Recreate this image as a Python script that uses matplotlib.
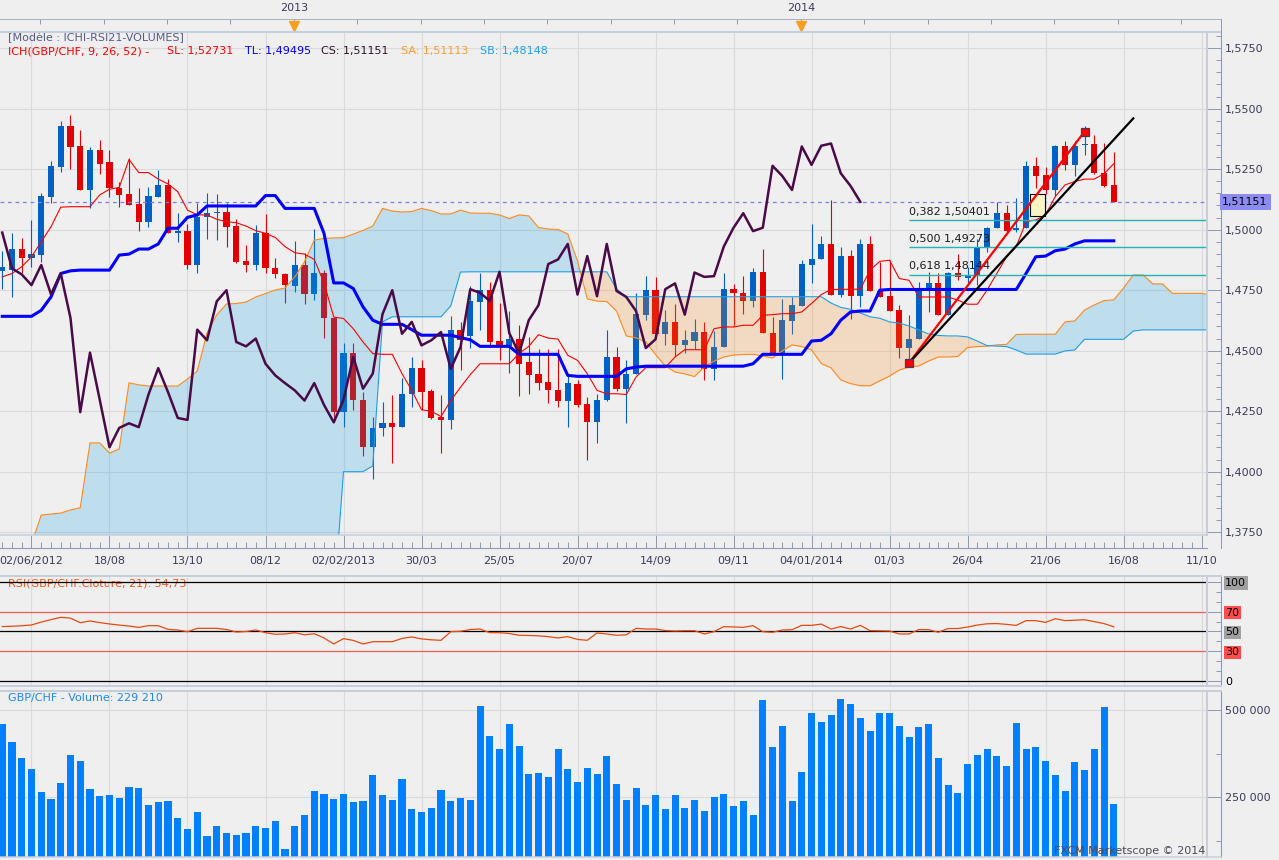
import numpy as np
import matplotlib.pyplot as plt
from matplotlib.lines import Line2D
from matplotlib.patches import Rectangle
from matplotlib.ticker import FixedLocator, MultipleLocator, FuncFormatter

plt.rcParams['font.family'] = ['DejaVu Sans']

# weekly GBP/CHF candles, week 0 = first dated grid line (02/06/2012)
first_week = -3

opens = [1.4830, 1.4833, 1.4920, 1.4884, 1.4895, 1.5137, 1.5261, 1.5427, 1.5344, 1.5164,
         1.5330, 1.5278, 1.5171, 1.5148, 1.5106, 1.5033, 1.5137, 1.5185, 1.4985, 1.4994,
         1.4856, 1.5051, 1.5068, 1.5073, 1.5015, 1.4870, 1.4856, 1.4988, 1.4840, 1.4816,
         1.4767, 1.4854, 1.4736, 1.4819, 1.4635, 1.4246, 1.4492, 1.4298, 1.4101, 1.4181,
         1.4200, 1.4184, 1.4319, 1.4428, 1.4332, 1.4225, 1.4214, 1.4587, 1.4559, 1.4702,
         1.4750, 1.4539, 1.4518, 1.4550, 1.4453, 1.4402, 1.4370, 1.4338, 1.4294, 1.4363,
         1.4278, 1.4204, 1.4297, 1.4474, 1.4343, 1.4405, 1.4646, 1.4750, 1.4570, 1.4619,
         1.4522, 1.4540, 1.4577, 1.4425, 1.4515, 1.4754, 1.4740, 1.4706, 1.4826, 1.4575,
         1.4488, 1.4623, 1.4685, 1.4856, 1.4877, 1.4941, 1.4732, 1.4891, 1.4725, 1.4941,
         1.4747, 1.4725, 1.4667, 1.4511, 1.4547, 1.4754, 1.4778, 1.4649, 1.4823, 1.4802,
         1.4808, 1.4930, 1.5006, 1.5068, 1.4999, 1.5006, 1.5264, 1.5227, 1.5164, 1.5344,
         1.5268, 1.5349, 1.5354, 1.5236, 1.5185]
highs = [1.4912, 1.4985, 1.4967, 1.5040, 1.5153, 1.5285, 1.5450, 1.5475, 1.5413, 1.5340,
         1.5372, 1.5330, 1.5199, 1.5296, 1.5171, 1.5175, 1.5247, 1.5210, 1.5068, 1.5023,
         1.5109, 1.5151, 1.5146, 1.5109, 1.5043, 1.4936, 1.5019, 1.5065, 1.4885, 1.4819,
         1.4953, 1.4905, 1.5001, 1.4833, 1.4640, 1.4533, 1.4533, 1.4329, 1.4227, 1.4287,
         1.4315, 1.4387, 1.4474, 1.4460, 1.4343, 1.4315, 1.4642, 1.4619, 1.4767, 1.4819,
         1.4785, 1.4699, 1.4663, 1.4605, 1.4557, 1.4508, 1.4508, 1.4508, 1.4398, 1.4377,
         1.4308, 1.4322, 1.4587, 1.4515, 1.4460, 1.4739, 1.4808, 1.4805, 1.4667, 1.4695,
         1.4584, 1.4633, 1.4619, 1.4582, 1.4822, 1.4777, 1.4808, 1.4843, 1.4920, 1.4639,
         1.4713, 1.4722, 1.4874, 1.5023, 1.4974, 1.5123, 1.4930, 1.4916, 1.4960, 1.4974,
         1.4865, 1.4874, 1.4688, 1.4646, 1.4785, 1.4826, 1.4819, 1.4826, 1.4899, 1.4847,
         1.4960, 1.5012, 1.5116, 1.5102, 1.5130, 1.5282, 1.5300, 1.5261, 1.5351, 1.5365,
         1.5365, 1.5428, 1.5392, 1.5358, 1.5323]
lows = [1.4754, 1.4722, 1.4819, 1.4847, 1.4867, 1.5112, 1.5240, 1.5251, 1.5164, 1.5088,
        1.5231, 1.5137, 1.5095, 1.5102, 1.4996, 1.5012, 1.5137, 1.4985, 1.4950, 1.4836,
        1.4823, 1.4960, 1.4957, 1.4930, 1.4863, 1.4826, 1.4833, 1.4822, 1.4801, 1.4699,
        1.4743, 1.4692, 1.4711, 1.4552, 1.4204, 1.4184, 1.4253, 1.4066, 1.3971, 1.4149,
        1.4035, 1.4184, 1.4267, 1.4253, 1.4218, 1.4077, 1.4177, 1.4419, 1.4512, 1.4584,
        1.4515, 1.4460, 1.4407, 1.4311, 1.4322, 1.4336, 1.4283, 1.4269, 1.4186, 1.4267,
        1.4048, 1.4117, 1.4294, 1.4332, 1.4200, 1.4405, 1.4626, 1.4570, 1.4522, 1.4477,
        1.4490, 1.4508, 1.4380, 1.4380, 1.4515, 1.4601, 1.4653, 1.4681, 1.4573, 1.4488,
        1.4384, 1.4570, 1.4685, 1.4778, 1.4877, 1.4732, 1.4722, 1.4633, 1.4681, 1.4747,
        1.4720, 1.4664, 1.4470, 1.4449, 1.4547, 1.4660, 1.4649, 1.4649, 1.4791, 1.4773,
        1.4771, 1.4909, 1.5006, 1.4992, 1.4992, 1.5006, 1.5171, 1.5146, 1.5139, 1.5247,
        1.5220, 1.5309, 1.5231, 1.5175, 1.5115]
closes = [1.4847, 1.4920, 1.4884, 1.4899, 1.5139, 1.5264, 1.5427, 1.5340, 1.5164, 1.5330,
          1.5272, 1.5171, 1.5144, 1.5102, 1.5033, 1.5139, 1.5185, 1.4985, 1.4994, 1.4856,
          1.5054, 1.5068, 1.5073, 1.5012, 1.4867, 1.4856, 1.4988, 1.4840, 1.4815, 1.4771,
          1.4854, 1.4733, 1.4819, 1.4635, 1.4246, 1.4492, 1.4297, 1.4101, 1.4181, 1.4200,
          1.4184, 1.4319, 1.4428, 1.4329, 1.4222, 1.4214, 1.4587, 1.4543, 1.4704, 1.4750,
          1.4536, 1.4518, 1.4550, 1.4446, 1.4398, 1.4366, 1.4336, 1.4294, 1.4366, 1.4276,
          1.4204, 1.4297, 1.4474, 1.4343, 1.4405, 1.4651, 1.4750, 1.4570, 1.4619, 1.4522,
          1.4543, 1.4577, 1.4425, 1.4515, 1.4754, 1.4739, 1.4706, 1.4826, 1.4573, 1.4488,
          1.4626, 1.4688, 1.4858, 1.4877, 1.4941, 1.4732, 1.4891, 1.4725, 1.4941, 1.4747,
          1.4722, 1.4664, 1.4511, 1.4547, 1.4754, 1.4778, 1.4649, 1.4823, 1.4805, 1.4808,
          1.4930, 1.5008, 1.5068, 1.4994, 1.5008, 1.5264, 1.5222, 1.5164, 1.5344, 1.5268,
          1.5347, 1.5356, 1.5233, 1.5181, 1.51151]

tenkan = [1.4805, 1.4819, 1.4847, 1.4888, 1.4950, 1.5012, 1.5093, 1.5095, 1.5095, 1.5095,
          1.5144, 1.5167, 1.5175, 1.5290, 1.5236, 1.5236, 1.5209, 1.5189, 1.5157, 1.5081,
          1.5061, 1.5061, 1.5043, 1.5033, 1.5029, 1.5015, 1.4996, 1.4985, 1.4968, 1.4930,
          1.4905, 1.4899, 1.4877, 1.4780, 1.4639, 1.4633, 1.4591, 1.4536, 1.4488, 1.4485,
          1.4485, 1.4405, 1.4336, 1.4256, 1.4250, 1.4228, 1.4294, 1.4349, 1.4401, 1.4446,
          1.4446, 1.4446, 1.4446, 1.4488, 1.4518, 1.4566, 1.4552, 1.4548, 1.4481, 1.4460,
          1.4405, 1.4336, 1.4322, 1.4322, 1.4319, 1.4391, 1.4430, 1.4430, 1.4430, 1.4474,
          1.4504, 1.4504, 1.4504, 1.4591, 1.4598, 1.4598, 1.4605, 1.4605, 1.4646, 1.4649,
          1.4653, 1.4653, 1.4660, 1.4695, 1.4732, 1.4753, 1.4753, 1.4754, 1.4754, 1.4833,
          1.4869, 1.4874, 1.4798, 1.4791, 1.4722, 1.4722, 1.4722, 1.4722, 1.4709, 1.4692,
          1.4692, 1.4750, 1.4819, 1.4888, 1.4930, 1.5033, 1.5040, 1.5061, 1.5137, 1.5185,
          1.5199, 1.5209, 1.5209, 1.5231, 1.5273]
kijun = [1.4642, 1.4642, 1.4642, 1.4642, 1.4667, 1.4722, 1.4819, 1.4830, 1.4833, 1.4833,
         1.4833, 1.4833, 1.4895, 1.4899, 1.4920, 1.4920, 1.4941, 1.5006, 1.5006, 1.5051,
         1.5061, 1.5098, 1.5098, 1.5098, 1.5098, 1.5098, 1.5098, 1.5141, 1.5141, 1.5088,
         1.5088, 1.5088, 1.5088, 1.4985, 1.4780, 1.4780, 1.4757, 1.4681, 1.4626, 1.4609,
         1.4609, 1.4609, 1.4587, 1.4564, 1.4564, 1.4564, 1.4564, 1.4554, 1.4545, 1.4518,
         1.4518, 1.4518, 1.4518, 1.4485, 1.4485, 1.4485, 1.4485, 1.4485, 1.4398, 1.4394,
         1.4394, 1.4394, 1.4394, 1.4394, 1.4425, 1.4432, 1.4436, 1.4436, 1.4436, 1.4436,
         1.4436, 1.4436, 1.4436, 1.4436, 1.4436, 1.4436, 1.4436, 1.4446, 1.4485, 1.4485,
         1.4485, 1.4485, 1.4485, 1.4540, 1.4543, 1.4570, 1.4626, 1.4660, 1.4664, 1.4664,
         1.4750, 1.4753, 1.4753, 1.4753, 1.4753, 1.4753, 1.4753, 1.4753, 1.4753, 1.4753,
         1.4753, 1.4753, 1.4753, 1.4753, 1.4753, 1.4819, 1.4888, 1.4891, 1.4913, 1.4920,
         1.4941, 1.4954, 1.4954, 1.4954, 1.4954]

# cloud spans from week -3 to week 121 (projected 26 weeks ahead)
senkou_a = [1.3650, 1.3650, 1.3660, 1.3700, 1.3821, 1.3825, 1.3829, 1.3842, 1.3851, 1.4119,
            1.4119, 1.4077, 1.4094, 1.4367, 1.4359, 1.4354, 1.4354, 1.4354, 1.4354, 1.4383,
            1.4416, 1.4573, 1.4648, 1.4693, 1.4695, 1.4701, 1.4722, 1.4736, 1.4751, 1.4759,
            1.4805, 1.4867, 1.4957, 1.4964, 1.4966, 1.4967, 1.4982, 1.4997, 1.5015, 1.5088,
            1.5077, 1.5073, 1.5075, 1.5088, 1.5079, 1.5065, 1.5065, 1.5081, 1.5069, 1.5068,
            1.5068, 1.5061, 1.5046, 1.5061, 1.5057, 1.5009, 1.5003, 1.5001, 1.4982, 1.4871,
            1.4714, 1.4705, 1.4703, 1.4664, 1.4561, 1.4553, 1.4536, 1.4484, 1.4437, 1.4412,
            1.4404, 1.4393, 1.4433, 1.4457, 1.4474, 1.4482, 1.4484, 1.4485, 1.4478, 1.4470,
            1.4499, 1.4524, 1.4517, 1.4503, 1.4447, 1.4429, 1.4379, 1.4364, 1.4355, 1.4355,
            1.4375, 1.4395, 1.4420, 1.4433, 1.4437, 1.4457, 1.4474, 1.4474, 1.4476, 1.4513,
            1.4517, 1.4519, 1.4524, 1.4526, 1.4567, 1.4568, 1.4568, 1.4568, 1.4568, 1.4619,
            1.4623, 1.4668, 1.4689, 1.4707, 1.4710, 1.4759, 1.4813, 1.4813, 1.4776, 1.4776,
            1.4737, 1.4737, 1.4737, 1.4737, 1.4730]
senkou_b = [1.3460, 1.3460, 1.3460, 1.3460, 1.3460, 1.3460, 1.3460, 1.3460, 1.3460, 1.3460,
            1.3460, 1.3460, 1.3460, 1.3460, 1.3460, 1.3460, 1.3460, 1.3460, 1.3460, 1.3460,
            1.3460, 1.3460, 1.3460, 1.3460, 1.3460, 1.3460, 1.3460, 1.3460, 1.3460, 1.3460,
            1.3460, 1.3460, 1.3460, 1.3460, 1.3460, 1.4000, 1.4000, 1.4000, 1.4024, 1.4619,
            1.4640, 1.4640, 1.4640, 1.4640, 1.4640, 1.4640, 1.4685, 1.4825, 1.4826, 1.4826,
            1.4826, 1.4826, 1.4826, 1.4826, 1.4826, 1.4826, 1.4826, 1.4826, 1.4826, 1.4826,
            1.4826, 1.4826, 1.4826, 1.4755, 1.4723, 1.4723, 1.4723, 1.4723, 1.4723, 1.4723,
            1.4723, 1.4723, 1.4723, 1.4723, 1.4723, 1.4723, 1.4723, 1.4723, 1.4723, 1.4723,
            1.4723, 1.4723, 1.4723, 1.4723, 1.4723, 1.4697, 1.4679, 1.4671, 1.4656, 1.4640,
            1.4634, 1.4619, 1.4614, 1.4602, 1.4586, 1.4569, 1.4563, 1.4561, 1.4561, 1.4557,
            1.4540, 1.4521, 1.4519, 1.4517, 1.4503, 1.4486, 1.4486, 1.4486, 1.4486, 1.4499,
            1.4503, 1.4547, 1.4547, 1.4547, 1.4547, 1.4547, 1.4581, 1.4586, 1.4586, 1.4586,
            1.4586, 1.4586, 1.4586, 1.4586, 1.4586]

rsi = [55.0, 55.3, 55.8, 56.6, 59.5, 62.0, 64.3, 63.5, 58.9, 60.6,
       59.0, 57.6, 56.5, 55.5, 54.2, 55.9, 55.9, 52.2, 51.5, 49.8,
       53.2, 53.2, 53.2, 52.0, 49.5, 50.0, 51.5, 48.8, 47.2, 47.5,
       48.8, 46.7, 47.7, 43.5, 37.4, 42.8, 41.0, 37.4, 39.7, 39.7,
       39.7, 43.0, 44.5, 42.5, 41.6, 41.1, 49.8, 50.2, 52.0, 52.5,
       48.8, 48.8, 48.0, 46.2, 46.0, 45.6, 44.8, 43.5, 44.8, 42.0,
       41.1, 48.5, 47.5, 46.2, 46.6, 53.2, 52.5, 52.5, 51.0, 50.5,
       50.8, 50.8, 47.5, 49.8, 54.9, 54.6, 54.2, 55.9, 49.8, 49.2,
       51.5, 51.8, 56.2, 56.2, 57.5, 52.5, 55.0, 52.5, 56.2, 50.9,
       50.7, 50.5, 47.5, 47.5, 51.9, 51.9, 49.2, 53.0, 53.0, 54.5,
       56.5, 57.8, 58.0, 57.2, 56.2, 61.0, 61.0, 59.2, 62.9, 61.0,
       61.4, 61.9, 60.0, 58.0, 54.73]

volume = [460000, 408000, 362000, 330000, 264000, 244000, 290000, 371000, 353000, 273000,
          253000, 256000, 247000, 279000, 276000, 227000, 236000, 238000, 190000, 158000,
          207000, 138000, 167000, 147000, 141000, 147000, 167000, 161000, 181000, 101000,
          167000, 198000, 267000, 259000, 244000, 259000, 236000, 238000, 313000, 256000,
          241000, 302000, 216000, 207000, 218000, 270000, 238000, 247000, 241000, 511000,
          425000, 388000, 460000, 397000, 316000, 319000, 307000, 388000, 330000, 293000,
          333000, 316000, 368000, 287000, 241000, 276000, 227000, 256000, 216000, 256000,
          218000, 241000, 210000, 250000, 259000, 224000, 238000, 198000, 529000, 394000,
          454000, 238000, 322000, 491000, 466000, 486000, 532000, 517000, 477000, 440000,
          491000, 491000, 454000, 422000, 451000, 460000, 362000, 284000, 262000, 345000,
          371000, 388000, 368000, 339000, 463000, 388000, 394000, 353000, 313000, 267000,
          351000, 328000, 388000, 509000, 229210]

date_labels = ['02/06/2012', '18/08', '13/10', '08/12', '02/02/2013', '30/03', '25/05', '20/07',
               '14/09', '09/11', '04/01/2014', '01/03', '26/04', '21/06', '16/08', '11/10']
label_weeks = list(range(0, 121, 8))
year_labels = ['2013', '2014']
year_weeks = [26.9, 78.9]

fib_ratios = ['0,382', '0,500', '0,618']
fib_levels = [1.50401, 1.49273, 1.48144]
swing_weeks = [90, 108]
swing_prices = [1.44494, 1.54053]
support_end = (113.0, 1.5460)

W, H = 1279, 860
BG = '#efefef'
GRID = '#dadada'
AXIS = '#8f9bb0'
FRAME = '#c6cedb'
TXT = '#3b3b5b'
XMIN, XMAX = -3.23, 120.56
PT = 0.72  # one pixel in points at 100 dpi

fig = plt.figure(figsize=(W / 100, H / 100), dpi=100, facecolor=BG)


def box(x0, y0, x1, y1):
    return [x0 / W, 1 - y1 / H, (x1 - x0) / W, (y1 - y0) / H]


def fig_line(xs, ys, color, lw=1.0):
    fig.add_artist(Line2D([x / W for x in xs], [1 - y / H for y in ys], color=color, lw=lw * PT))


def right_axis(ax):
    ax.yaxis.tick_right()
    ax.spines['right'].set_position(('outward', 14 * PT))
    ax.spines['right'].set_color(AXIS)
    for s in ['left', 'top', 'bottom']:
        ax.spines[s].set_visible(False)
    ax.tick_params(axis='y', which='major', direction='in', length=14 * PT, width=PT,
                   color=AXIS, labelsize=8, labelcolor=TXT, pad=3)
    ax.tick_params(axis='y', which='minor', direction='in', length=5 * PT, width=PT, color=AXIS)


weeks = np.arange(first_week, first_week + len(closes))
cloud_weeks = np.arange(first_week, first_week + len(senkou_a))
o, h, l, c = map(np.array, (opens, highs, lows, closes))
sa, sb = np.array(senkou_a), np.array(senkou_b)

# ---------------- main ichimoku panel ----------------
ax = fig.add_axes(box(0, 32, 1207, 535), facecolor=BG)
ax.set_xlim(XMIN, XMAX)
ax.set_ylim(1.37384, 1.58169)
right_axis(ax)
ax.yaxis.set_major_locator(MultipleLocator(0.025))
ax.yaxis.set_minor_locator(MultipleLocator(0.005))
ax.yaxis.set_major_formatter(FuncFormatter(lambda v, p: f"{v:.4f}".replace('.', ',')))
ax.spines['bottom'].set_visible(True)
ax.spines['bottom'].set_position(('outward', 13 * PT))
ax.spines['bottom'].set_color(AXIS)
ax.xaxis.set_major_locator(FixedLocator(label_weeks))
ax.set_xticklabels(date_labels)
ax.xaxis.set_minor_locator(MultipleLocator(1))
ax.tick_params(axis='x', which='major', direction='in', length=13 * PT, width=PT, color=AXIS,
               labelsize=8, labelcolor=TXT, pad=6)
ax.tick_params(axis='x', which='minor', direction='in', length=6 * PT, width=PT, color=AXIS)
ax.grid(True, which='major', color=GRID, lw=0.8)
ax.set_axisbelow(True)

cols = np.where(c >= o, '#0060c4', '#e00000')
ax.vlines(weeks, l, h, colors=cols, lw=0.8, zorder=2)
ax.bar(weeks, np.maximum(np.abs(c - o), 0.0004), bottom=np.minimum(o, c), width=0.62,
       color=cols, zorder=2)

ax.fill_between(cloud_weeks, sa, sb, where=sa >= sb, interpolate=True,
                color=(0.08, 0.62, 0.90), alpha=0.22, lw=0, zorder=3)
ax.fill_between(cloud_weeks, sa, sb, where=sa < sb, interpolate=True,
                color=(0.99, 0.55, 0.15), alpha=0.22, lw=0, zorder=3)
ax.plot(cloud_weeks, sa, color='#ff8a1c', lw=0.8, zorder=4)
ax.plot(cloud_weeks, sb, color='#1e9fe6', lw=0.8, zorder=4)

ax.plot(weeks, tenkan, color='#ff0000', lw=0.8, zorder=5)
ax.plot(weeks, kijun, color='#0000ff', lw=2.2, zorder=5)
ax.plot(weeks[26:] - 26, c[26:], color='#4a0a48', lw=1.8, zorder=5)

ax.axhline(closes[-1], color='#7c7cf2', lw=0.9, dashes=(3, 3), zorder=4)
ax.annotate(f"{closes[-1]:.5f}".replace('.', ','), xy=(1, closes[-1]),
            xycoords=ax.get_yaxis_transform(), xytext=(11, 0), textcoords='offset points',
            ha='left', va='center', fontsize=8, color='black', annotation_clip=False,
            bbox=dict(boxstyle='square,pad=0.25', fc='#8b8bf3', ec='none'))

# fibonacci retracement and trend lines
ax.hlines(fib_levels, swing_weeks[0], XMAX, color='#22b5b5', lw=1.0, zorder=6)
for ratio, lev in zip(fib_ratios, fib_levels):
    ax.annotate(f"{ratio} {lev:.5f}".replace('1.', '1,'), xy=(swing_weeks[0], lev),
                xytext=(0, 2.5), textcoords='offset points', ha='left', va='bottom',
                fontsize=8, color='#1c1c1c', zorder=6)
ax.add_patch(Rectangle((102.4, 1.5058), 1.5, 0.0088, fc='#f8f5c4', ec='black', lw=0.8, zorder=6))
ax.plot(swing_weeks, swing_prices, color='#ff0000', lw=1.6, zorder=7)
ax.plot([swing_weeks[0], support_end[0]], [swing_prices[0], support_end[1]],
        color='black', lw=1.6, zorder=7)
ax.plot(swing_weeks, swing_prices, 's', ms=6, mfc='#ff0000', mec='#3c3c64', mew=0.9, zorder=8)

ax.text(8 / 1207, 1 - 6 / 503, '[Modèle : ICHI-RSI21-VOLUMES]', transform=ax.transAxes,
        fontsize=8, color='#5a5a8a', va='center')
header = [(8, 'ICH(GBP/CHF, 9, 26, 52) -', '#ff0000'), (167, 'SL: 1,52731', '#ff0000'),
          (245, 'TL: 1,49495', '#0000ff'), (321, 'CS: 1,51151', '#301030'),
          (401, 'SA: 1,51113', '#ff9a30'), (480, 'SB: 1,48148', '#20a0f0')]
for xp, s, col in header:
    ax.text(xp / 1207, 1 - 19 / 503, s, transform=ax.transAxes, fontsize=8, color=col, va='center')

# top year strip
top = fig.add_axes(box(0, 19, 1207, 32), facecolor=BG)
top.set_xlim(XMIN, XMAX)
top.set_ylim(0, 1)
top.axis('off')
top.vlines(np.arange(year_weeks[0] - 26, XMAX, 6.5), 0.6, 1.0, color=AXIS, lw=PT)
for wk, yr in zip(year_weeks, year_labels):
    top.plot(wk, 0.5, marker='v', ms=7, color='#f5a020', clip_on=False)
    top.text(wk, 1.85, yr, ha='center', va='center', fontsize=8, color=TXT, clip_on=False)

fig_line([0, 1221], [19, 19], '#a8b2c2')
fig_line([0, 1221], [31.5, 31.5], FRAME, 2)
fig_line([0, 1207], [535, 535], FRAME, 1.5)
fig_line([1207, 1207], [32, 535], FRAME, 2)
fig_line([1221, 1221], [19, 548], AXIS)

# ---------------- RSI panel ----------------
rax = fig.add_axes(box(0, 576, 1207, 686), facecolor=BG)
rax.set_xlim(XMIN, XMAX)
rax.set_ylim(-5.05, 106.06)
right_axis(rax)
rax.xaxis.set_major_locator(FixedLocator(label_weeks))
rax.tick_params(axis='x', which='both', bottom=False, labelbottom=False)
rax.grid(True, axis='x', color=GRID, lw=0.8)
rax.set_yticks([0, 30, 50, 70, 100])
rax.set_yticklabels(['0', '30', '50', '70', '100'])
rax.yaxis.set_minor_locator(MultipleLocator(10))
rax.tick_params(axis='y', which='major', labelcolor='black')
for tick, fc in zip(rax.yaxis.get_major_ticks(), [None, '#ff4c4c', '#a0a0a0', '#ff4c4c', '#a0a0a0']):
    if fc:
        tick.label2.set_bbox(dict(boxstyle='square,pad=0.15', fc=fc, ec='none'))
for lev, col in [(100, 'black'), (0, 'black'), (50, 'black'), (70, '#ff5a5a'), (30, '#ff5a5a')]:
    rax.axhline(lev, color=col, lw=0.9, zorder=3)
rax.plot(weeks, rsi, color='#e84a0c', lw=0.9, zorder=4)
rax.text(8 / 1207, 1 - 7 / 110, 'RSI(GBP/CHF.Cloture, 21): 54,73', transform=rax.transAxes,
         fontsize=8, color='#ec5a20', va='center', zorder=1)
fig_line([0, 1221], [576, 576], FRAME, 2)
fig_line([0, 1221], [686, 686], FRAME, 2)
fig_line([1207, 1207], [576, 686], FRAME, 2)

# ---------------- volume panel ----------------
vax = fig.add_axes(box(0, 691, 1207, 857), facecolor=BG)
vax.set_xlim(XMIN, XMAX)
vax.set_ylim(77600, 554600)
right_axis(vax)
vax.xaxis.set_major_locator(FixedLocator(label_weeks))
vax.tick_params(axis='x', which='both', bottom=False, labelbottom=False)
vax.yaxis.set_major_locator(FixedLocator([250000, 500000]))
vax.yaxis.set_minor_locator(FixedLocator([125000, 375000]))
vax.yaxis.set_major_formatter(FuncFormatter(lambda v, p: f"{int(v):,}".replace(',', ' ')))
vax.grid(True, which='major', color=GRID, lw=0.8)
vax.set_axisbelow(True)
vax.bar(weeks, volume, width=0.72, color='#0080ff', zorder=2)
vax.text(8 / 1207, 1 - 7 / 166, 'GBP/CHF - Volume: 229 210', transform=vax.transAxes,
         fontsize=8, color='#1e88f0', va='center')
fig_line([0, 1221], [691, 691], FRAME, 2)
fig_line([0, 1221], [857, 857], FRAME, 1.5)
fig_line([1207, 1207], [691, 857], FRAME, 2)
fig.text(1205 / W, 1 - 851 / H, 'FXCM Marketscope © 2014', ha='right', va='center',
         fontsize=8, color='#4a4a5a')

fig.savefig('out.png', dpi=100, facecolor=BG)
